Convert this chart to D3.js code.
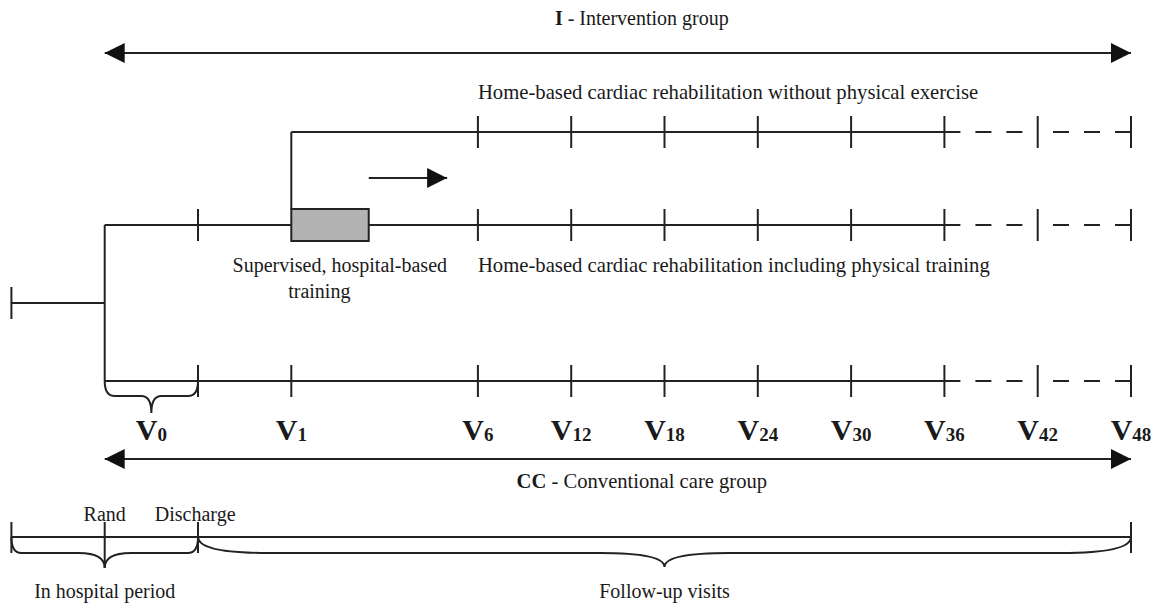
<!DOCTYPE html>
<html>
<head>
<meta charset="utf-8">
<script src="https://cdn.jsdelivr.net/npm/d3@7"></script>
<style>
  body { margin: 0; background: #fff; }
  text { font-family: "Liberation Serif", "Times New Roman", serif; fill: #1a1a1a; }
</style>
</head>
<body>
<svg id="chart"></svg>
<script>
// visit labels (months) and their slot on the time axis
const visitLabels = ["0", "1", "6", "12", "18", "24", "30", "36", "42", "48"];
const visitSlots  = [0, 1, 3, 4, 5, 6, 7, 8, 9, 10];
const lastSolid = 8;      // V36, dashed after this
const startSlot = -2;     // inclusion
const randSlot = -1;      // randomisation
const trainingEnd = 1.83; // end of supervised training block
const arrowSlots = [1.83, 2.67];
const groupLabels = [["I", " - Intervention group"], ["CC", " - Conventional care group"]];
const periodLabels = ["In hospital period", "Follow-up visits"];

(() => {
    const width = 1158, height = 608;
    const ink = "#222";

    const svg = d3.select("#chart")
        .attr("width", width)
        .attr("height", height);

    const x = d3.scaleLinear().domain([0, 10]).range([198, 1131]);

    // row positions
    const yI = 53, yUp = 132, ySmall = 178, yMid = 225, yStart = 303, yBot = 381,
          yV = 440, yCC = 459, yTime = 537;

    const defs = svg.append("defs");
    ["end", "start"].forEach(k => {
        defs.append("marker")
            .attr("id", "arr-" + k)
            .attr("viewBox", "0 0 20 20")
            .attr("refX", k === "end" ? 20 : 0)
            .attr("refY", 10)
            .attr("markerWidth", 20)
            .attr("markerHeight", 20)
            .attr("markerUnits", "userSpaceOnUse")
            .attr("orient", "auto")
            .append("path")
            .attr("d", k === "end" ? "M0,0 L20,10 L0,20 Z" : "M20,0 L0,10 L20,20 Z")
            .attr("fill", "#111");
    });

    const g = svg.append("g")
        .attr("stroke", ink)
        .attr("stroke-width", 2)
        .attr("fill", "none");

    const line = (x1, y1, x2, y2) => g.append("line")
        .attr("x1", x1).attr("y1", y1).attr("x2", x2).attr("y2", y2);

    const tick = (px, y, up = 16, down = 16) => line(px, y - up, px, y + down);

    // timeline row with solid part, dashed tail, and ticks
    const row = (y, fromSlot, tickSlots) => {
        line(x(fromSlot), y, x(lastSolid), y);
        line(x(lastSolid), y, x(9), y).attr("stroke-dasharray", "16,15");
        line(x(10), y, x(9), y).attr("stroke-dasharray", "16,15");
        tickSlots.forEach(s => tick(x(s), y));
    };

    // group arrows
    line(x(randSlot), yI, x(10), yI)
        .attr("marker-start", "url(#arr-start)").attr("marker-end", "url(#arr-end)");
    line(x(randSlot), yCC, x(10), yCC)
        .attr("marker-start", "url(#arr-start)").attr("marker-end", "url(#arr-end)");

    // start stub and split
    tick(x(startSlot), yStart);
    line(x(startSlot), yStart, x(randSlot), yStart);
    line(x(randSlot), yMid, x(randSlot), yBot);

    // upper branch (no exercise)
    line(x(visitSlots[1]), yMid - 16, x(visitSlots[1]), yUp);
    row(yUp, visitSlots[1], visitSlots.slice(2));

    // middle branch (physical training)
    row(yMid, randSlot, [visitSlots[0]].concat(visitSlots.slice(2)));
    g.append("rect")
        .attr("x", x(visitSlots[1]))
        .attr("y", yMid - 16)
        .attr("width", x(trainingEnd) - x(visitSlots[1]))
        .attr("height", 32)
        .attr("fill", "#b3b3b3");

    // small direction arrow
    line(x(arrowSlots[0]), ySmall, x(arrowSlots[1]), ySmall)
        .attr("marker-end", "url(#arr-end)");

    // conventional care row
    row(yBot, randSlot, visitSlots);

    // curly brace under a span
    const brace = (x0, x1, tipX, y0, y1, y2, r0, r1) => {
        const p = d3.path();
        p.moveTo(x0, y0);
        p.quadraticCurveTo(x0, y1, x0 + r0, y1);
        p.lineTo(tipX - r1, y1);
        p.quadraticCurveTo(tipX, y1, tipX, y2);
        p.quadraticCurveTo(tipX, y1, tipX + r1, y1);
        p.lineTo(x1 - r0, y1);
        p.quadraticCurveTo(x1, y1, x1, y0);
        g.append("path").attr("d", p.toString());
    };

    brace(x(randSlot), x(0), x(-0.5), yBot, yBot + 15, yBot + 32, 10, 10);

    // bottom time line
    line(x(startSlot), yTime, x(10), yTime);
    [startSlot, 0, 10].forEach(s => tick(x(s), yTime, 15, 16));
    tick(x(randSlot), yTime, 15, 31);
    brace(x(startSlot), x(0), x(randSlot), yTime, yTime + 16, yTime + 31, 10, 26);
    brace(x(0), x(10), x(5), yTime, yTime + 16, yTime + 30, 70, 65);

    // texts
    const txt = (tx, ty, s, anchor = "middle", size = 20) => svg.append("text")
        .attr("x", tx).attr("y", ty)
        .attr("text-anchor", anchor)
        .attr("font-size", size)
        .text(s);

    [[yI - 28, groupLabels[0], 20], [yCC + 29, groupLabels[1], 20.6]].forEach(([ty, lab, fs]) => {
        const t = svg.append("text")
            .attr("x", (x(randSlot) + x(10)) / 2 + 24)
            .attr("y", ty)
            .attr("text-anchor", "middle")
            .attr("font-size", fs);
        t.append("tspan").attr("font-weight", "bold").text(lab[0]);
        t.append("tspan").text(lab[1]);
    });

    txt(x(3), 99, "Home-based cardiac rehabilitation without physical exercise", "start", 20.7);
    txt(x(3), 272, "Home-based cardiac rehabilitation including physical training", "start", 20.7);
    txt(x(1.52), 272, "Supervised, hospital-based");
    txt(x(1.3), 298, "training");

    // visit labels
    visitLabels.forEach((v, i) => {
        const cx = i === 0 ? x(-0.5) : x(visitSlots[i]);
        const t = svg.append("text")
            .attr("x", cx)
            .attr("y", yV)
            .attr("text-anchor", "middle")
            .attr("font-weight", "bold");
        t.append("tspan").attr("font-size", 30).text("V");
        t.append("tspan").attr("font-size", 19).attr("dy", 1).text(v);
    });

    txt(x(randSlot), 521, "Rand");
    txt(x(-0.03), 521, "Discharge");
    txt(x(randSlot), 598, periodLabels[0]);
    txt(x(5), 598, periodLabels[1]);
})();
</script>
</body>
</html>
